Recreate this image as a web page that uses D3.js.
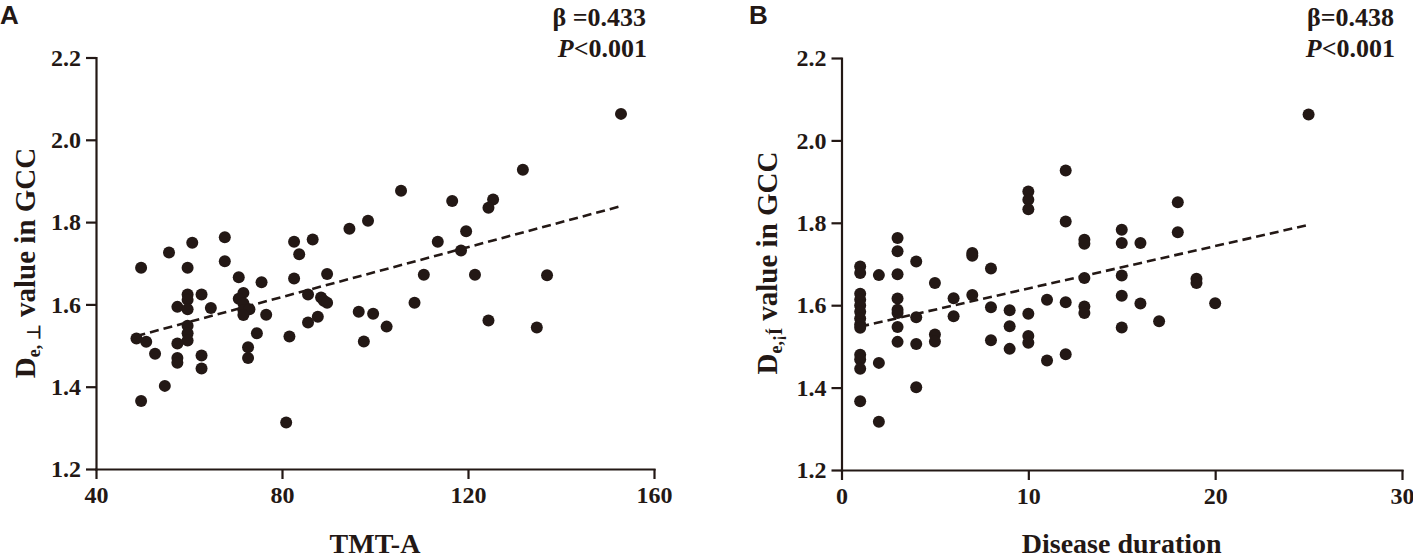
<!DOCTYPE html>
<html>
<head>
<meta charset="utf-8">
<script src="https://cdn.jsdelivr.net/npm/d3@7"></script>
<style>
    body { margin: 0; background: #fff; }
    svg text { font-family: "Liberation Serif", "Times New Roman", serif; font-weight: bold; fill: #231815; }
    svg .tick text { font-size: 24px; }
    svg .panel-letter { font-family: "Liberation Sans", Arial, sans-serif; font-size: 26px; }
</style>
</head>
<body>
<div class="charts"></div>
<script>
// ------- DATA -------
var yTicks = [1.2, 1.4, 1.6, 1.8, 2.0, 2.2];
var tmtTicks = [40, 80, 120, 160];
var durationTicks = [0, 10, 20, 30];

// panel A: TMT-A vs De value
var tmtA = [152.9, 131.8, 105.6, 116.6, 125.4, 124.4, 98.5, 94.5, 119.6, 113.5,
            118.5, 82.6, 86.6, 83.7, 67.7, 67.7, 60.7, 55.7, 49.7, 59.7,
            70.7, 75.6, 82.6, 89.7, 110.5, 121.5, 137.0, 59.7, 59.7, 62.7,
            57.5, 59.7, 64.7, 71.7, 70.7, 71.7, 71.7, 73.0, 71.7, 76.6,
            85.6, 88.4, 89.0, 89.7, 108.5, 96.5, 99.6, 87.7, 85.6, 102.5,
            124.4, 134.8, 59.7, 59.7, 59.7, 57.5, 48.7, 50.8, 74.6, 81.6,
            97.6, 52.7, 57.5, 57.5, 62.7, 62.7, 72.7, 72.7, 54.8, 49.7, 80.9];
var gccA = [2.063, 1.927, 1.876, 1.851, 1.855, 1.835, 1.803, 1.784, 1.778, 1.752,
            1.731, 1.752, 1.758, 1.722, 1.763, 1.705, 1.750, 1.726, 1.689, 1.689,
            1.666, 1.654, 1.663, 1.674, 1.672, 1.672, 1.671, 1.624, 1.611, 1.624,
            1.594, 1.588, 1.591, 1.628, 1.614, 1.603, 1.586, 1.588, 1.574, 1.575,
            1.624, 1.617, 1.609, 1.604, 1.604, 1.582, 1.577, 1.570, 1.556, 1.546,
            1.561, 1.544, 1.548, 1.530, 1.512, 1.505, 1.517, 1.509, 1.530, 1.522,
            1.510, 1.480, 1.470, 1.458, 1.476, 1.444, 1.496, 1.470, 1.402, 1.365, 1.313];

// panel B: disease duration vs De value
var duration = [1, 1, 1, 1, 1, 1, 1, 1, 1, 1, 1, 1, 1,
                2, 2, 2,
                3, 3, 3, 3, 3, 3, 3, 3,
                4, 4, 4, 4,
                5, 5, 5,
                6, 6,
                7, 7, 7,
                8, 8, 8,
                9, 9, 9,
                10, 10, 10, 10, 10, 10,
                11, 11,
                12, 12, 12, 12,
                13, 13, 13, 13, 13,
                15, 15, 15, 15, 15,
                16, 16,
                17,
                18, 18,
                19, 19,
                20,
                25];
var gccB = [1.694, 1.678, 1.628, 1.613, 1.599, 1.584, 1.568, 1.553, 1.545, 1.480, 1.468, 1.446, 1.367,
            1.673, 1.460, 1.317,
            1.763, 1.731, 1.675, 1.616, 1.589, 1.581, 1.547, 1.511,
            1.706, 1.571, 1.506, 1.401,
            1.654, 1.529, 1.512,
            1.617, 1.573,
            1.727, 1.720, 1.625,
            1.689, 1.595, 1.515,
            1.588, 1.549, 1.494,
            1.876, 1.856, 1.833, 1.579, 1.525, 1.509,
            1.613, 1.466,
            1.927, 1.803, 1.607, 1.481,
            1.759, 1.749, 1.666, 1.597, 1.581,
            1.783, 1.751, 1.672, 1.623, 1.546,
            1.751, 1.604,
            1.561,
            1.850, 1.777,
            1.664, 1.654,
            1.605,
            2.063];

// fitted lines as drawn in the figure
var fitA = {slope: 0.00303, intercept: 1.3755};
var fitB = {slope: 0.01029, intercept: 1.5377};

var ink = "#231815";

var svg = d3.select(".charts").append("svg")
    .attr("width", 1413)
    .attr("height", 558);

drawPanel({
    letter: "A", letterX: 0,
    left: 96, right: 654, top: 57.5, bottom: 469,
    xDomain: [40, 160], xTicks: tmtTicks, xFormat: d3.format("d"),
    xs: tmtA, ys: gccA, fit: fitA,
    xTitle: "TMT-A", ySub: "e, \u22A5", yLabelX: 35,
    beta: "\u03B2 =0.433"
});

drawPanel({
    letter: "B", letterX: 749,
    left: 841.5, right: 1402, top: 58, bottom: 470,
    xDomain: [0, 30], xTicks: durationTicks, xFormat: d3.format("d"),
    xs: duration, ys: gccB, fit: fitB,
    xTitle: "Disease duration", ySub: "e,\u00A1\u00CD", yLabelX: 777,
    beta: "\u03B2=0.438"
});


// ------- HELPER FUNCTIONS -------

function drawPanel(p) {
    var x = d3.scaleLinear().domain(p.xDomain).range([p.left, p.right]);
    var y = d3.scaleLinear().domain([1.2, 2.2]).range([p.bottom, p.top]);
    var g = svg.append("g");

    // axes
    var xAxis = g.append("g")
        .attr("transform", `translate(0, ${p.bottom})`)
        .call(d3.axisBottom(x).tickValues(p.xTicks).tickFormat(p.xFormat)
            .tickSize(10).tickPadding(7).tickSizeOuter(0));
    var yAxis = g.append("g")
        .attr("transform", `translate(${p.left}, 0)`)
        .call(d3.axisLeft(y).tickValues(yTicks).tickFormat(d3.format(".1f"))
            .tickSize(10).tickPadding(5).tickSizeOuter(0));
    [xAxis, yAxis].forEach(function(a) {
        a.select(".domain").attr("stroke", ink).attr("stroke-width", 2.2).attr("stroke-linecap", "square");
        a.selectAll(".tick line").attr("stroke", ink).attr("stroke-width", 2.2);
    });

    // dashed fit line over the data range
    var ext = d3.extent(p.xs);
    g.append("line")
        .attr("x1", x(ext[0]))
        .attr("y1", y(p.fit.intercept + p.fit.slope * ext[0]))
        .attr("x2", x(ext[1]))
        .attr("y2", y(p.fit.intercept + p.fit.slope * ext[1]))
        .attr("stroke", ink)
        .attr("stroke-width", 2.6)
        .attr("stroke-dasharray", "9,5");

    // points
    g.append("g")
        .selectAll("circle")
        .data(p.xs.map((d, i) => ({x: d, y: p.ys[i]})))
        .enter()
        .append("circle")
        .attr("cx", d => x(d.x))
        .attr("cy", d => y(d.y))
        .attr("r", 6)
        .attr("fill", ink);

    // titles
    g.append("text")
        .attr("x", (p.left + p.right) / 2)
        .attr("y", 553)
        .attr("text-anchor", "middle")
        .style("font-size", "28px")
        .text(p.xTitle);

    var yLabel = g.append("text")
        .attr("transform", `translate(${p.yLabelX}, 263) rotate(-90)`)
        .attr("text-anchor", "middle")
        .style("font-size", "29px");
    yLabel.append("tspan").text("D");
    yLabel.append("tspan").attr("dy", 5).style("font-size", "18px").text(p.ySub);
    yLabel.append("tspan").attr("dy", -5).text(" value in GCC");

    g.append("text")
        .attr("class", "panel-letter")
        .attr("x", p.letterX)
        .attr("y", 24)
        .text(p.letter);

    // stats
    g.append("text")
        .attr("x", p.right - 8)
        .attr("y", 26)
        .attr("text-anchor", "end")
        .style("font-size", "26px")
        .text(p.beta);
    var pText = g.append("text")
        .attr("x", p.right - 7)
        .attr("y", 57)
        .attr("text-anchor", "end")
        .style("font-size", "26px");
    pText.append("tspan").style("font-style", "italic").text("P");
    pText.append("tspan").text("<0.001");
}
</script>
</body>
</html>
